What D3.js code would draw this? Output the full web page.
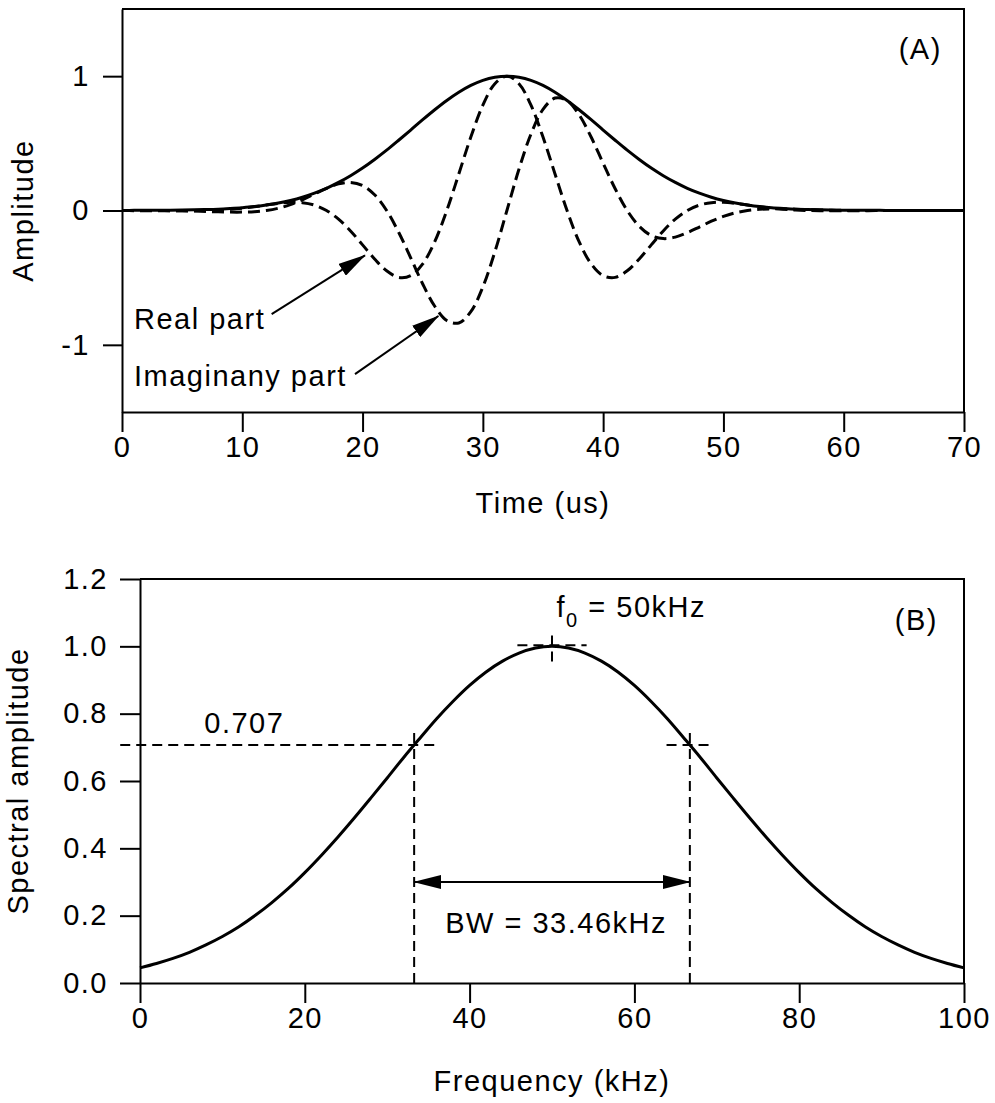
<!DOCTYPE html>
<html>
<head>
<meta charset="utf-8">
<script src="https://cdn.jsdelivr.net/npm/d3@7"></script>
<style>
  body { margin: 0; background: #fff; }
  svg text { font-family: "Liberation Sans", Arial, Helvetica, sans-serif; fill: #000; letter-spacing: 1.5px; }
</style>
</head>
<body>
<svg id="chart" width="995" height="1103"></svg>
<script>
// ---------------- DATA ----------------
// Panel A: time axis (us) and the three traces
const timeUs = [0,1,2,3,4,5,6,7,8,9,10,11,12,13,14,15,16,17,18,19,20,21,22,23,24,25,26,27,28,29,30,31,32,33,34,35,36,37,38,39,40,41,42,43,44,45,46,47,48,49,50,51,52,53,54,55,56,57,58,59,60,61,62,63,64,65,66,67,68,69,70];
const envelope = [0.000,0.001,0.001,0.001,0.002,0.003,0.005,0.007,0.010,0.015,0.021,0.029,0.041,0.056,0.075,0.099,0.129,0.165,0.209,0.259,0.316,0.380,0.449,0.523,0.599,0.676,0.750,0.819,0.880,0.931,0.969,0.992,1.000,0.992,0.969,0.931,0.880,0.819,0.750,0.676,0.599,0.523,0.449,0.380,0.316,0.259,0.209,0.165,0.129,0.099,0.075,0.056,0.041,0.029,0.021,0.015,0.010,0.007,0.005,0.003,0.002,0.001,0.001,0.001,0.000,0.000,0.000,0.000,0.000,0.000,0.000];
const realPart = [0.000,-0.001,-0.001,-0.001,-0.002,-0.002,-0.001,0.000,0.003,0.009,0.017,0.028,0.041,0.053,0.061,0.058,0.040,0.000,-0.064,-0.152,-0.256,-0.361,-0.449,-0.498,-0.485,-0.397,-0.232,0.000,0.272,0.547,0.784,0.944,1.000,0.944,0.784,0.547,0.272,0.000,-0.232,-0.397,-0.485,-0.498,-0.449,-0.361,-0.256,-0.152,-0.064,0.000,0.040,0.058,0.061,0.053,0.041,0.028,0.017,0.009,0.003,0.000,-0.001,-0.002,-0.002,-0.001,-0.001,0.000,0.000,0.000,0.000,0.000,0.000,0.000,0.000];
const imagPart = [0.000,0.000,0.000,0.000,-0.001,-0.002,-0.004,-0.007,-0.010,-0.012,-0.012,-0.009,0.000,0.017,0.044,0.080,0.123,0.165,0.198,0.209,0.186,0.117,0.000,-0.162,-0.352,-0.547,-0.713,-0.819,-0.837,-0.753,-0.569,-0.307,0.000,0.307,0.569,0.753,0.837,0.819,0.713,0.547,0.352,0.162,0.000,-0.117,-0.186,-0.209,-0.198,-0.165,-0.123,-0.080,-0.044,-0.017,0.000,0.009,0.012,0.012,0.010,0.007,0.004,0.002,0.001,0.000,0.000,0.000,0.000,0.000,0.000,0.000,0.000,0.000,0.000];
const xTicksA = [0,10,20,30,40,50,60,70];
const yTicksA = [-1,0,1];

// Panel B: frequency axis (kHz) and spectrum
const freqKHz = [0,2,4,6,8,10,12,14,16,18,20,22,24,26,28,30,32,34,36,38,40,42,44,46,48,50,52,54,56,58,60,62,64,66,68,70,72,74,76,78,80,82,84,86,88,90,92,94,96,98,100];
const spectrum = [0.045,0.058,0.073,0.091,0.113,0.138,0.167,0.201,0.239,0.281,0.328,0.379,0.433,0.490,0.549,0.609,0.670,0.728,0.785,0.837,0.884,0.924,0.956,0.980,0.995,1.000,0.995,0.980,0.956,0.924,0.884,0.837,0.785,0.728,0.670,0.609,0.549,0.490,0.433,0.379,0.328,0.281,0.239,0.201,0.167,0.138,0.113,0.091,0.073,0.058,0.045];
const xTicksB = [0,20,40,60,80,100];
const yTicksB = [0,0.2,0.4,0.6,0.8,1.0,1.2];
const halfPower = 0.707;
const lowerFreq = 33.27, upperFreq = 66.73, centerFreq = 50;
const bwLabel = "BW = 33.46kHz";

// ---------------- DRAW ----------------
const svg = d3.select("#chart");
const FS = 29;
const FONT = '"Liberation Sans", Arial, Helvetica, sans-serif';

function styleAxis(g) {
  g.attr("font-size", FS).attr("font-family", FONT);
  g.selectAll("path, line").attr("stroke", "#000").attr("stroke-width", 2);
  g.selectAll("text").attr("fill", "#000");
}

// arrow marker
const defs = svg.append("defs");
defs.append("marker")
  .attr("id", "arrow")
  .attr("viewBox", "0 0 28 14")
  .attr("refX", 27).attr("refY", 7)
  .attr("markerWidth", 28).attr("markerHeight", 14)
  .attr("markerUnits", "userSpaceOnUse")
  .attr("orient", "auto-start-reverse")
  .append("path").attr("d", "M0,0 L28,7 L0,14 Z").attr("fill", "#000");

// ===== Panel A =====
const A = { l: 122, r: 964, t: 9, b: 412 };
const xA = d3.scaleLinear().domain([0, 70]).range([A.l, A.r]);
const yA = d3.scaleLinear().domain([-1.5, 1.5]).range([A.b, A.t]);

svg.append("g").attr("transform", `translate(0,${A.b})`)
  .call(d3.axisBottom(xA).tickValues(xTicksA).tickSize(20).tickSizeOuter(0).tickPadding(4).tickFormat(d => String(d)))
  .call(styleAxis);
svg.append("g").attr("transform", `translate(${A.l},0)`)
  .call(d3.axisLeft(yA).tickValues(yTicksA).tickSize(19).tickSizeOuter(0).tickPadding(13).tickFormat(d => String(d)))
  .call(styleAxis);
svg.append("path")
  .attr("d", `M${A.l},${A.t}H${A.r}V${A.b}`)
  .attr("fill", "none").attr("stroke", "#000").attr("stroke-width", 2);

const lineA = d3.line().x((d, i) => xA(timeUs[i])).y(d => yA(d)).curve(d3.curveCatmullRom.alpha(0.5));
[realPart, imagPart].forEach(s => {
  svg.append("path").attr("d", lineA(s)).attr("fill", "none")
    .attr("stroke", "#000").attr("stroke-width", 3).attr("stroke-dasharray", "12,6");
});
svg.append("path").attr("d", lineA(envelope)).attr("fill", "none")
  .attr("stroke", "#000").attr("stroke-width", 3);

// annotations A
svg.append("text").attr("x", xA(1.0)).attr("y", yA(-0.885)).attr("font-size", FS).text("Real part");
svg.append("text").attr("x", xA(1.0)).attr("y", yA(-1.303)).attr("font-size", FS).text("Imaginany part");
svg.append("line")
  .attr("x1", xA(12.44)).attr("y1", yA(-0.772)).attr("x2", xA(20.2)).attr("y2", yA(-0.334))
  .attr("stroke", "#000").attr("stroke-width", 2).attr("marker-end", "url(#arrow)");
svg.append("line")
  .attr("x1", xA(19.37)).attr("y1", yA(-1.218)).attr("x2", xA(26.3)).attr("y2", yA(-0.785))
  .attr("stroke", "#000").attr("stroke-width", 2).attr("marker-end", "url(#arrow)");
svg.append("text").attr("x", xA(68.16)).attr("y", yA(1.128)).attr("text-anchor", "end").attr("font-size", FS).text("(A)");

svg.append("text").attr("x", (A.l + A.r) / 2).attr("y", 513).attr("text-anchor", "middle").attr("font-size", FS).text("Time (us)");
svg.append("text").attr("transform", `translate(33,${(A.t + A.b) / 2}) rotate(-90)`)
  .attr("text-anchor", "middle").attr("font-size", FS).text("Amplitude");

// ===== Panel B =====
const B = { l: 140, r: 964, t: 579, b: 983 };
const xB = d3.scaleLinear().domain([0, 100]).range([B.l, B.r]);
const yB = d3.scaleLinear().domain([0, 1.2]).range([B.b, B.t]);

svg.append("g").attr("transform", `translate(0,${B.b})`)
  .call(d3.axisBottom(xB).tickValues(xTicksB).tickSize(20).tickSizeOuter(0).tickPadding(4).tickFormat(d => String(d)))
  .call(styleAxis);
svg.append("g").attr("transform", `translate(${B.l},0)`)
  .call(d3.axisLeft(yB).tickValues(yTicksB).tickSize(20).tickSizeOuter(0).tickPadding(12).tickFormat(d3.format(".1f")))
  .call(styleAxis);
svg.append("path")
  .attr("d", `M${B.l},${B.t}H${B.r}V${B.b}`)
  .attr("fill", "none").attr("stroke", "#000").attr("stroke-width", 2);

const lineB = d3.line().x((d, i) => xB(freqKHz[i])).y(d => yB(d)).curve(d3.curveCatmullRom.alpha(0.5));
svg.append("path").attr("d", lineB(spectrum)).attr("fill", "none")
  .attr("stroke", "#000").attr("stroke-width", 3);

// dashed guide lines
const guides = [
  { x1: -2.4, y1: halfPower, x2: 36.0, y2: halfPower },
  { x1: 63.9, y1: halfPower, x2: 69.4, y2: halfPower },
  { x1: lowerFreq, y1: 0, x2: lowerFreq, y2: 0.752 },
  { x1: upperFreq, y1: 0, x2: upperFreq, y2: 0.752 },
  { x1: 45.8, y1: 1.003, x2: 54.2, y2: 1.003 },
  { x1: centerFreq, y1: 0.955, x2: centerFreq, y2: 1.045 }
];
svg.append("g").selectAll("line").data(guides).join("line")
  .attr("x1", d => xB(d.x1)).attr("y1", d => yB(d.y1))
  .attr("x2", d => xB(d.x2)).attr("y2", d => yB(d.y2))
  .attr("stroke", "#000").attr("stroke-width", 2).attr("stroke-dasharray", "10,6");

// BW double arrow
svg.append("line")
  .attr("x1", xB(lowerFreq)).attr("y1", yB(0.30)).attr("x2", xB(upperFreq)).attr("y2", yB(0.30))
  .attr("stroke", "#000").attr("stroke-width", 2)
  .attr("marker-start", "url(#arrow)").attr("marker-end", "url(#arrow)");

svg.append("text").attr("x", xB(50.5)).attr("y", yB(0.148)).attr("text-anchor", "middle").attr("font-size", FS).text(bwLabel);
svg.append("text").attr("x", xB(7.8)).attr("y", yB(0.742)).attr("font-size", FS).text(String(halfPower));
const f0 = svg.append("text").attr("x", xB(50.55)).attr("y", yB(1.088)).attr("font-size", FS);
f0.append("tspan").text("f");
f0.append("tspan").attr("font-size", 20).attr("dy", 10).text("0");
f0.append("tspan").attr("dy", -10).text(" = 50kHz");
svg.append("text").attr("x", xB(96.85)).attr("y", yB(1.048)).attr("text-anchor", "end").attr("font-size", FS).text("(B)");

svg.append("text").attr("x", (B.l + B.r) / 2).attr("y", 1091).attr("text-anchor", "middle").attr("font-size", FS).text("Frequency (kHz)");
svg.append("text").attr("transform", `translate(28,${(B.t + B.b) / 2}) rotate(-90)`)
  .attr("text-anchor", "middle").attr("font-size", FS).text("Spectral amplitude");
</script>
</body>
</html>
